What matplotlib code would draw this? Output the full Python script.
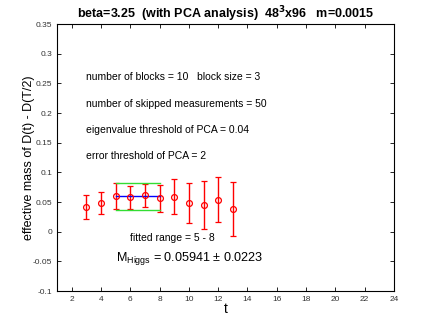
import matplotlib
matplotlib.use("Agg")
import matplotlib.pyplot as plt
import numpy as np

plt.rcParams['font.family'] = ['Liberation Sans', 'DejaVu Sans']
plt.rcParams['mathtext.fontset'] = 'custom'
plt.rcParams['mathtext.rm'] = 'Liberation Sans'

t = [3, 4, 5, 6, 7, 8, 9, 10, 11, 12, 13]
meff = [0.0415, 0.0477, 0.0605, 0.0583, 0.0610, 0.0560, 0.0592, 0.0488, 0.0449, 0.0540, 0.0385]
err = [0.0195, 0.0185, 0.0215, 0.0195, 0.0200, 0.0220, 0.0290, 0.0340, 0.0410, 0.0380, 0.0450]

fit_range = [5, 8]
M_fit = 0.05941
M_err = 0.0223

xticks = list(range(2, 25, 2))
yticks = [-0.1, -0.05, 0, 0.05, 0.1, 0.15, 0.2, 0.25, 0.3, 0.35]
yticklabels = ['-0.1', '-0.05', '0', '0.05', '0.1', '0.15', '0.2', '0.25', '0.3', '0.35']

info_lines = [
    "number of blocks = 10   block size = 3",
    "number of skipped measurements = 50",
    "eigenvalue threshold of PCA = 0.04",
    "error threshold of PCA = 2",
]
info_y = [0.26, 0.215, 0.171, 0.127]

fig = plt.figure(figsize=(4.36, 3.27), dpi=100)
ax = fig.add_axes([0.1307, 0.110, 0.773, 0.8166])

ax.errorbar(t, meff, yerr=err, fmt='o', color='red', mfc='none', mec='red',
            ms=4.2, mew=0.9, elinewidth=1.0, capsize=2.5, capthick=1.0)

ax.plot(fit_range, [M_fit, M_fit], color='blue', lw=1.0)
ax.plot(fit_range, [M_fit + M_err, M_fit + M_err], color='#33dd33', lw=1.0)
ax.plot(fit_range, [M_fit - M_err, M_fit - M_err], color='#33dd33', lw=1.0)

for s, yy in zip(info_lines, info_y):
    ax.text(3.0, yy, s, fontsize=7.5, va='center', ha='left')

ax.text(6.0, -0.011, "fitted range = 5 - 8", fontsize=7.5, va='center', ha='left')
ax.text(5.0, -0.045, r"M$_{\mathrm{Higgs}}$ = %.5f $\pm$ %.4f" % (M_fit, M_err),
        fontsize=9.1, va='center', ha='left')

ax.set_xlim(1, 24)
ax.set_ylim(-0.1, 0.35)
ax.set_xticks(xticks)
ax.set_yticks(yticks)
ax.set_yticklabels(yticklabels)
ax.tick_params(direction='in', top=True, right=True, labelsize=6, length=3,
               width=0.6, labelcolor='#333333')
for sp in ax.spines.values():
    sp.set_linewidth(0.8)

ax.set_xlabel("t", fontsize=10, labelpad=-1)
ax.set_ylabel("effective mass of D(t) - D(T/2)", fontsize=9, labelpad=-1.5)
ax.set_title(r"beta=3.25  (with PCA analysis)  48$^{\mathbf{3}}$x96   m=0.0015",
             fontsize=9, fontweight='bold', pad=4)

fig.savefig("out.png", dpi=100)
